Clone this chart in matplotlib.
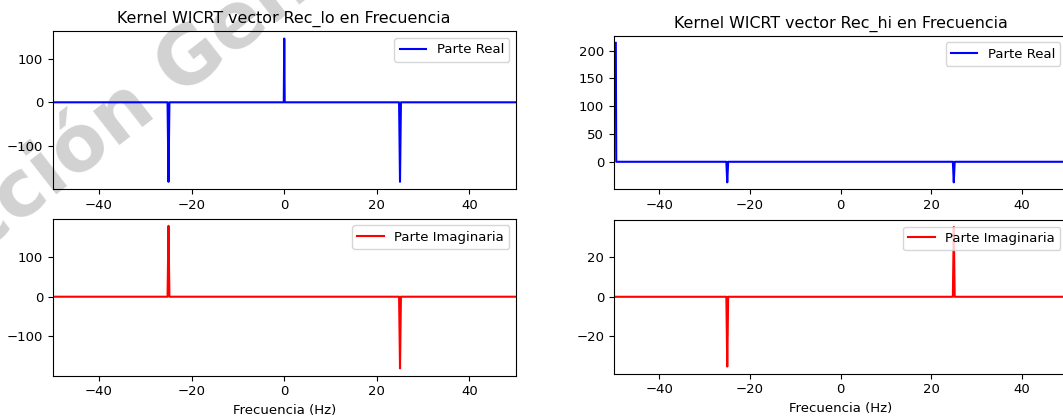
import matplotlib
matplotlib.use('Agg')
import matplotlib.pyplot as plt

# Rec_lo spectrum (Hz, value)
freq_lo_re = [-50, -25.2, -25, -24.8, -0.1, 0, 0.1, 24.8, 25, 25.2, 50]
val_lo_re = [0, 0, -182, 0, 0, 146, 0, 0, -182, 0, 0]
freq_lo_im = [-50, -25.2, -25, -24.8, 24.8, 25, 25.2, 50]
val_lo_im = [0, 0, 180, 0, 0, -182, 0, 0]

# Rec_hi spectrum
freq_hi_re = [-49.6, -49.5, -25.2, -25, -24.8, 24.8, 25, 25.2, 50]
val_hi_re = [214, 0, 0, -37, 0, 0, -37, 0, 0]
freq_hi_im = [-50, -25.2, -25, -24.8, 24.8, 25, 25.2, 50]
val_hi_im = [0, 0, -35.4, 0, 0, 35.4, 0, 0]

xticks = [-40, -20, 0, 20, 40]
plt.rcParams['font.size'] = 9.5
plt.rcParams['legend.fontsize'] = 9.5


def main():
    fig = plt.figure(figsize=(10.63, 4.17), dpi=100)

    ax_lt = fig.add_axes([0.0496, 0.5468, 0.4356, 0.378])
    ax_lb = fig.add_axes([0.0496, 0.0995, 0.4356, 0.376])
    ax_rt = fig.add_axes([0.5776, 0.546, 0.4262, 0.368])
    ax_rb = fig.add_axes([0.5776, 0.1043, 0.4262, 0.368])

    ax_lt.plot(freq_lo_re, val_lo_re, color='b', label='Parte Real')
    ax_lb.plot(freq_lo_im, val_lo_im, color='r', label='Parte Imaginaria')
    ax_rt.plot(freq_hi_re, val_hi_re, color='b', label='Parte Real')
    ax_rb.plot(freq_hi_im, val_hi_im, color='r', label='Parte Imaginaria')

    ax_lt.set_title('Kernel WICRT vector Rec_lo en Frecuencia')
    ax_rt.set_title('Kernel WICRT vector Rec_hi en Frecuencia')
    ax_lb.set_xlabel('Frecuencia (Hz)')
    ax_rb.set_xlabel('Frecuencia (Hz)')

    ax_lt.set_yticks([-100, 0, 100])
    ax_lb.set_yticks([-100, 0, 100])
    ax_rt.set_yticks([0, 50, 100, 150, 200])
    ax_rb.set_yticks([-20, 0, 20])

    for ax in [ax_lt, ax_lb, ax_rt, ax_rb]:
        ax.set_xlim(-50, 50)
        ax.set_xticks(xticks)
        ax.set_facecolor('none')
        ax.legend(loc='upper right')

    # watermark of the source document, behind the plots
    fig.text(-0.155, 0.119, 'Dirección General de Bibliotecas', fontsize=56,
             fontweight='bold', color='#d2d2d2', rotation=38,
             rotation_mode='anchor', ha='left', va='baseline', zorder=-1)

    fig.savefig('out.png', dpi=100)


if __name__ == '__main__':
    main()
